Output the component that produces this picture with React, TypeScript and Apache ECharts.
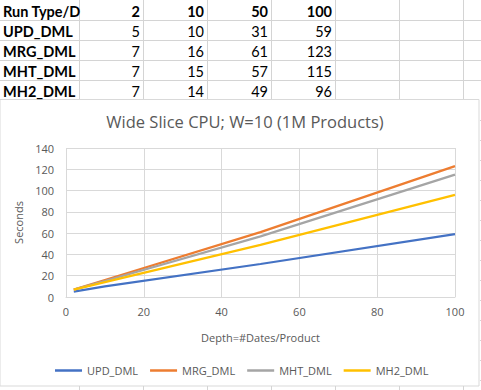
import React, { useEffect, useRef } from "react";
import * as echarts from "echarts";

const headerLabel = "Run Type/D";
const depths = [2, 10, 50, 100];
const seriesNames = ["UPD_DML", "MRG_DML", "MHT_DML", "MH2_DML"];
const updValues = [5, 10, 31, 59];
const mrgValues = [7, 16, 61, 123];
const mhtValues = [7, 15, 57, 115];
const mh2Values = [7, 14, 49, 96];
const seriesValues = [updValues, mrgValues, mhtValues, mh2Values];
const colors = ["#4472C4", "#ED7D31", "#A5A5A5", "#FFC000"];

export default function App() {
  const ref = useRef<HTMLDivElement>(null);
  useEffect(() => {
    document.body.style.margin = "0";
    const chart = echarts.init(ref.current!, null, { renderer: "svg" });
    const W = 481;
    const gridColor = "#D4D4D4";
    const colX = [79, 143, 207, 271, 335, 399, 463];
    const rowY = [20, 40, 60, 80];
    const cellFont = "Lato, 'Open Sans', sans-serif";
    const g: any[] = [];
    rowY.forEach((y) =>
      g.push({ type: "line", shape: { x1: 0, y1: y + 0.5, x2: W, y2: y + 0.5 }, style: { stroke: gridColor, lineWidth: 1 } })
    );
    colX.forEach((x) => {
      g.push({ type: "line", shape: { x1: x + 0.5, y1: 0, x2: x + 0.5, y2: 99 }, style: { stroke: gridColor, lineWidth: 1 } });
      g.push({ type: "line", shape: { x1: x + 0.5, y1: 386, x2: x + 0.5, y2: 390 }, style: { stroke: gridColor, lineWidth: 1 } });
    });
    [120, 140, 160, 180, 200, 220, 240, 260, 280, 300, 320, 340, 360, 380].forEach((y) =>
      g.push({ type: "line", shape: { x1: 480, y1: y + 0.5, x2: 481, y2: y + 0.5 }, style: { stroke: gridColor, lineWidth: 1 } })
    );
    const rows: (string | number)[][] = [[headerLabel, ...depths]];
    seriesNames.forEach((n, i) => rows.push([n, ...seriesValues[i]]));
    rows.forEach((r, ri) => {
      const cy = ri * 20 + 11;
      r.forEach((v, ci) => {
        if (ci === 0) {
          g.push({ type: "text", x: 3, y: cy, style: { text: String(v), font: `bold 14.5px ${cellFont}`, fill: "#000", verticalAlign: "middle", align: "left" } });
        } else {
          g.push({
            type: "text",
            x: colX[ci] - 3,
            y: cy,
            style: { text: String(v), font: `${ri === 0 ? "bold " : ""}14.5px ${cellFont}`, fill: "#000", verticalAlign: "middle", align: "right" },
          });
        }
      });
    });
    g.push({ type: "rect", z: -10, shape: { x: 0, y: 99.5, width: 479, height: 286.5 }, style: { fill: "#fff", stroke: "#D9D9D9", lineWidth: 1 } });

    const font = "'Open Sans', sans-serif";
    chart.setOption({
      animation: false,
      backgroundColor: "#fff",
      color: colors,
      title: {
        text: "Wide Slice CPU; W=10 (1M Products)",
        left: 240,
        textAlign: "center",
        top: 108,
        textStyle: { fontFamily: font, fontSize: 16.5, fontWeight: "normal", color: "#595959" },
      },
      graphic: g,
      grid: { left: 66, right: 26, top: 148, bottom: 93, containLabel: false },
      xAxis: {
        type: "value",
        min: 0,
        max: 100,
        interval: 20,
        name: "Depth=#Dates/Product",
        nameLocation: "middle",
        nameGap: 35,
        nameTextStyle: { fontFamily: font, fontSize: 11, color: "#595959" },
        axisLine: { show: true, lineStyle: { color: "#D9D9D9" } },
        axisTick: { show: false },
        axisLabel: { margin: 9, fontFamily: font, fontSize: 11, color: "#595959" },
        splitLine: { show: true, lineStyle: { color: "#D9D9D9" } },
      },
      yAxis: {
        type: "value",
        min: 0,
        max: 140,
        interval: 20,
        name: "Seconds",
        nameLocation: "middle",
        nameGap: 41,
        nameRotate: 90,
        nameTextStyle: { fontFamily: font, fontSize: 11, color: "#595959" },
        axisLine: { show: false },
        axisTick: { show: false },
        axisLabel: { margin: 12, fontFamily: font, fontSize: 11, color: "#595959" },
        splitLine: { show: true, lineStyle: { color: "#D9D9D9" } },
      },
      legend: {
        left: 50,
        top: 360,
        icon: "rect",
        itemWidth: 27,
        itemHeight: 2.5,
        itemGap: 12,
        textStyle: { fontFamily: font, fontSize: 11, color: "#595959" },
        data: seriesNames,
      },
      series: seriesNames.map((name, i) => ({
        name,
        type: "line",
        symbol: "none",
        lineStyle: { width: 2.25 },
        data: depths.map((d, j) => [d, seriesValues[i][j]]),
      })),
    });
    return () => chart.dispose();
  }, []);
  return <div ref={ref} style={{ width: 481, height: 390 }} />;
}
